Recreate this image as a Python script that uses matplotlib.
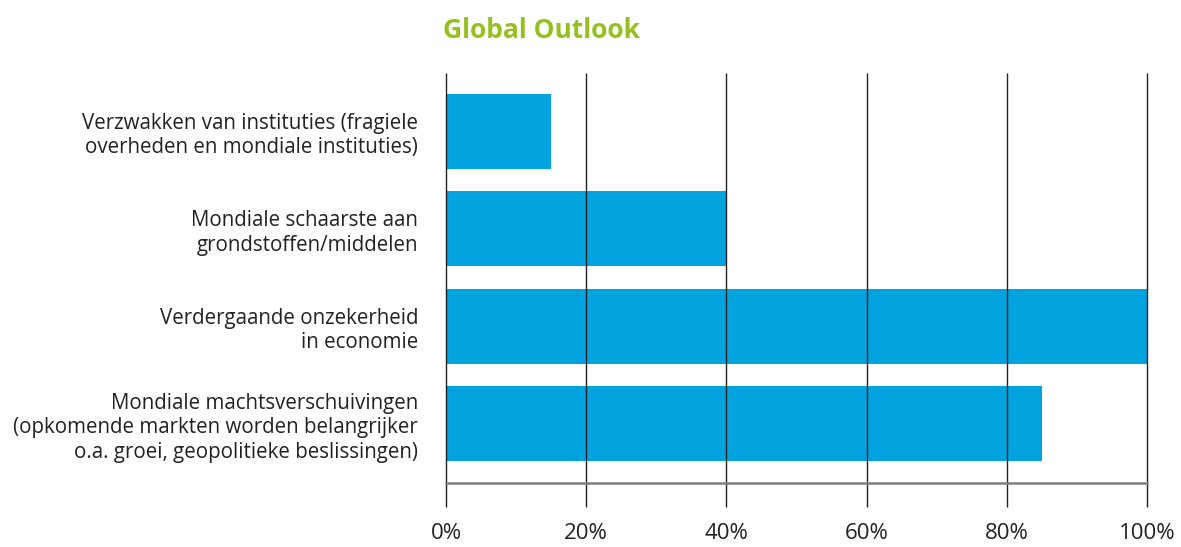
import matplotlib.pyplot as plt
from matplotlib.ticker import FuncFormatter

plt.rcParams['font.family'] = ['Open Sans', 'DejaVu Sans']

categories = [
    "Verzwakken van instituties (fragiele\noverheden en mondiale instituties)",
    "Mondiale schaarste aan\ngrondstoffen/middelen",
    "Verdergaande onzekerheid\nin economie",
    "Mondiale machtsverschuivingen\n(opkomende markten worden belangrijker\no.a. groei, geopolitieke beslissingen)",
]
values = [15, 40, 100, 85]
ticks = [0, 20, 40, 60, 80, 100]

fig = plt.figure(figsize=(11.81, 5.47), dpi=100)
ax = fig.add_axes([0.3776, 0.117, 0.5936, 0.7495])

pos = list(range(len(categories)))
ax.barh(pos, values, height=0.77, color='#00A3DE', zorder=1)

ax.set_xlim(0, 100)
ax.set_ylim(len(categories) - 1 + 0.61, -0.60)
ax.set_xticks(ticks)
ax.xaxis.set_major_formatter(FuncFormatter(lambda v, p: f"{v:.0f}%"))
ax.set_yticks(pos)
ax.set_yticklabels(categories, fontsize=14.8, color='#222222', linespacing=1.22)
ax.tick_params(axis='y', length=0, pad=20)
ax.tick_params(axis='x', length=17, width=1.0, color='#222222', pad=12,
               labelsize=16, labelcolor='#222222')

# vertical gridlines on top of the bars, not clipped at the right edge
ax.vlines(ticks, 0, 1, transform=ax.get_xaxis_transform(),
          colors='#222222', linewidth=1.0, zorder=3, clip_on=False)
for side in ['top', 'right', 'left']:
    ax.spines[side].set_visible(False)
ax.spines['bottom'].set_color('#808080')
ax.spines['bottom'].set_linewidth(1.8)
ax.spines['bottom'].set_zorder(4)

fig.text(0.375, 0.944, "Global Outlook", fontsize=19, fontweight='bold',
         color='#95C11F', ha='left', va='center')

fig.savefig('out.png', dpi=100)
